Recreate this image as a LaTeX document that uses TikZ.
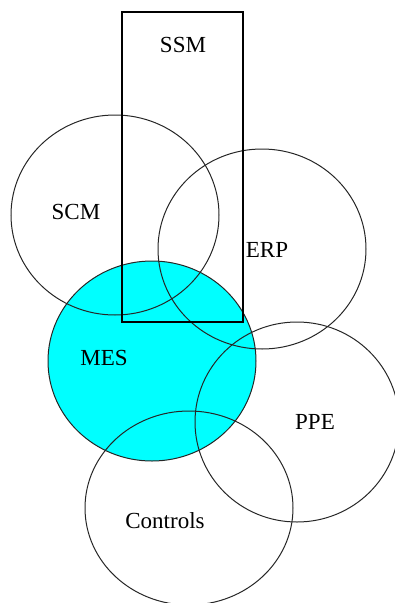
\documentclass[tikz,border=0pt]{standalone}
\usepackage{fontspec}
\newfontfamily\areafont{Liberation Serif}
\usepackage{tikz}
\usetikzlibrary{shapes.geometric}
\definecolor{mescyan}{rgb}{0,1,1}

\begin{document}
\begin{tikzpicture}[x=1pt, y=-1pt,
        area/.style={ellipse, draw=black!85, line width=1pt, inner sep=0pt, minimum width=208pt, minimum height=200pt},
        frame/.style={rectangle, draw=black, line width=1.3pt, inner sep=0pt, minimum width=121pt, minimum height=310pt},
        areatext/.style={font=\areafont\fontsize{23}{27}\selectfont, inner sep=0pt}]
        \useasboundingbox (0,0) rectangle (395,603);

        % filled one first so the other outlines stay on top
        \node [area, fill=mescyan] (mes) at (152,361) {};
        \node [area] (scm) at (115,215) {};
        \node [area] (erp) at (262,249) {};
        \node [area, minimum width=204pt] (ppe) at (297,422) {};
        \node [area, minimum height=194pt] (controls) at (189,508) {};
        \node [frame] (ssm) at (182.5,167) {};

        \node [areatext] (ssmtext) at (183,45) {SSM};
        \node [areatext] (scmtext) at (76,212) {SCM};
        \node [areatext] (erptext) at (267,250) {ERP};
        \node [areatext] (mestext) at (104,358) {MES};
        \node [areatext] (ppetext) at (315,422) {PPE};
        \node [areatext] (controlstext) at (165,521) {Controls};
    \end{tikzpicture}
\end{document}
